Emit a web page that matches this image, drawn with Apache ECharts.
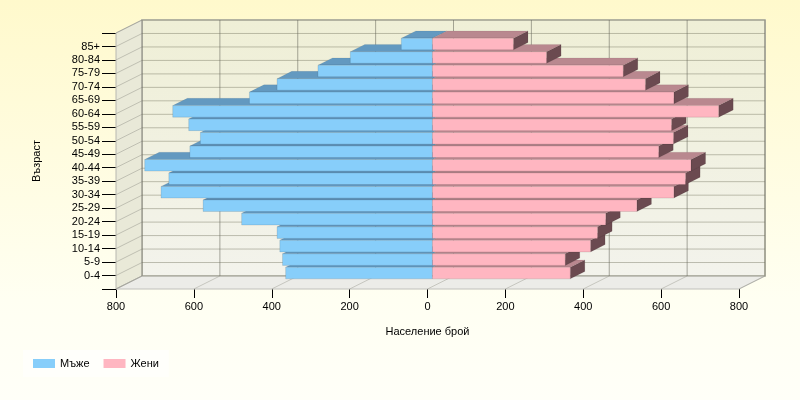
<!DOCTYPE html>
<html>
<head>
<meta charset="utf-8">
<title>pyramid</title>
<script src="https://cdn.jsdelivr.net/npm/echarts@6/dist/echarts.min.js"></script>
<style>html,body{margin:0;padding:0;}#main{width:800px;height:400px;}</style>
</head>
<body>
<div id="main"></div>
<script>
// възрастови групи, отдолу нагоре
var ages = ['0-4','5-9','10-14','15-19','20-24','25-29','30-34','35-39','40-44',
            '45-49','50-54','55-59','60-64','65-69','70-74','75-79','80-84','85+'];
var male   = [377,385,392,399,490,589,697,677,739,623,596,626,667,470,399,294,211,80];
var female = [354,341,406,424,445,525,620,650,664,581,619,614,735,620,547,490,293,208];
var xTicks = [-800,-600,-400,-200,0,200,400,600,800];

var D = [26, -13];       // отместване на задната стена (px)
var F1 = 0.19, F2 = 0.75; // дълбочина на колоните
var FONT = 'Liberation Sans';

function shift(p, f) { return [p[0] + D[0] * f, p[1] + D[1] * f]; }

var chart = echarts.init(document.getElementById('main'));

function wallsItem(params, api) {
  var P = function (x, y, f) { return shift(api.coord([x, y]), f); };
  var kids = [];
  // задна стена
  kids.push({ type: 'polygon', shape: { points: [P(-800,0,1), P(800,0,1), P(800,19,1), P(-800,19,1)] },
    style: { fill: { type:'linear', x:0, y:0, x2:0, y2:1, colorStops:[{offset:0,color:'#efefd6'},{offset:1,color:'#f3f3ec'}] },
             stroke: '#c4c4b4', lineWidth: 2 } });
  // лява стена
  kids.push({ type: 'polygon', shape: { points: [P(-800,0,0), P(-800,0,1), P(-800,19,1), P(-800,19,0)] },
    style: { fill: '#e9e9d8', stroke: '#b8b8b0', lineWidth: 1 } });
  // под
  kids.push({ type: 'polygon', shape: { points: [P(-800,0,0), P(800,0,0), P(800,0,1), P(-800,0,1)] },
    style: { fill: '#ecece8', stroke: '#c0c0bc', lineWidth: 1 } });
  var i, a, b;
  for (i = 0; i <= 19; i++) {
    kids.push({ type: 'line', shape: { x1: P(-800,i,1)[0], y1: P(-800,i,1)[1], x2: P(800,i,1)[0], y2: P(800,i,1)[1] },
      style: { stroke: 'rgba(120,120,100,0.45)', lineWidth: 1 } });
    a = P(-800,i,0); b = P(-800,i,1);
    kids.push({ type: 'line', shape: { x1: a[0], y1: a[1], x2: b[0], y2: b[1] },
      style: { stroke: 'rgba(150,150,140,0.5)', lineWidth: 1 } });
  }
  for (i = 0; i < xTicks.length; i++) {
    a = P(xTicks[i],0,1); b = P(xTicks[i],19,1);
    kids.push({ type: 'line', shape: { x1: a[0], y1: a[1], x2: b[0], y2: b[1] },
      style: { stroke: 'rgba(100,100,90,0.55)', lineWidth: 1 } });
    a = P(xTicks[i],0,0); b = P(xTicks[i],0,1);
    kids.push({ type: 'line', shape: { x1: a[0], y1: a[1], x2: b[0], y2: b[1] },
      style: { stroke: 'rgba(160,160,150,0.5)', lineWidth: 1 } });
  }
  return { type: 'group', children: kids };
}

function barItem(front, top, side) {
  return function (params, api) {
    var v = api.value(0), y = api.value(1);
    var h = api.size([0, 1])[1] * 0.86;
    var c0 = api.coord([0, y]), c1 = api.coord([v, y]);
    var xl = Math.min(c0[0], c1[0]), xr = Math.max(c0[0], c1[0]);
    var ft = shift([xl, c0[1] - h / 2], F1), fb = shift([xl, c0[1] + h / 2], F1);
    var w = xr - xl;
    var d = F2 - F1;
    var kids = [];
    if (side) {
      kids.push({ type: 'polygon', shape: { points: [[ft[0]+w, ft[1]], shift([ft[0]+w, ft[1]], d), shift([fb[0]+w, fb[1]], d), [fb[0]+w, fb[1]]] },
        style: { fill: side, stroke: 'rgba(0,0,0,0.15)', lineWidth: 0.5 } });
    }
    kids.push({ type: 'polygon', shape: { points: [ft, [ft[0]+w, ft[1]], shift([ft[0]+w, ft[1]], d), shift(ft, d)] },
      style: { fill: top, stroke: 'rgba(0,0,0,0.12)', lineWidth: 0.5 } });
    kids.push({ type: 'rect', shape: { x: ft[0], y: ft[1], width: w, height: h },
      style: { fill: front, stroke: 'rgba(0,0,0,0.18)', lineWidth: 0.6 } });
    return { type: 'group', children: kids };
  };
}

var option = {
  backgroundColor: { type:'linear', x:0, y:0, x2:0, y2:1,
    colorStops:[{offset:0,color:'#fff9cc'},{offset:0.75,color:'#fffff2'},{offset:1,color:'#fffff8'}] },
  animation: false,
  textStyle: { fontFamily: FONT },
  legend: {
    data: ['Мъже', 'Жени'], left: 23, top: 350, orient: 'horizontal',
    itemWidth: 22, itemHeight: 9, itemGap: 14, icon: 'rect',
    padding: [8, 10], backgroundColor: 'rgba(255,255,255,0.55)',
    textStyle: { fontFamily: FONT, fontSize: 11, color: '#000' }
  },
  grid: { left: 116, right: 61, top: 33, bottom: 111 },
  xAxis: {
    type: 'value', min: -800, max: 800, interval: 200,
    name: 'Население брой', nameLocation: 'middle', nameGap: 37,
    nameTextStyle: { fontFamily: FONT, fontSize: 11, color: '#000' },
    axisLine: { show: false, onZero: false },
    axisTick: { show: true, length: 9, lineStyle: { color: '#000' } },
    axisLabel: { margin: 12, fontFamily: FONT, fontSize: 11, color: '#000',
      formatter: function (v) { return Math.abs(v); } },
    splitLine: { show: false }
  },
  yAxis: {
    type: 'value', min: 0, max: 19, interval: 1,
    name: 'Възраст', nameLocation: 'middle', nameGap: 74, nameRotate: 90,
    nameTextStyle: { fontFamily: FONT, fontSize: 11, color: '#000' },
    axisLine: { show: false, onZero: false },
    axisTick: { show: true, length: 14, lineStyle: { color: '#000' } },
    axisLabel: { margin: 16, fontFamily: FONT, fontSize: 11, color: '#000',
      formatter: function (v) { return ages[v - 1] || ''; } },
    splitLine: { show: false }
  },
  series: [
    { type: 'custom', name: 'walls', z: 1, silent: true, data: [[0, 0]],
      renderItem: wallsItem },
    { type: 'custom', name: 'Мъже', z: 2, itemStyle: { color: '#87CEFA' },
      data: male.map(function (v, i) { return [-v, i + 1]; }),
      renderItem: barItem('#87CEFA', '#6399c0', null) },
    { type: 'custom', name: 'Жени', z: 3, itemStyle: { color: '#FFB6C1' },
      data: female.map(function (v, i) { return [v, i + 1]; }),
      renderItem: barItem('#FFB6C1', '#b9888f', '#6b4a50') }
  ]
};
chart.setOption(option);
</script>
</body>
</html>
